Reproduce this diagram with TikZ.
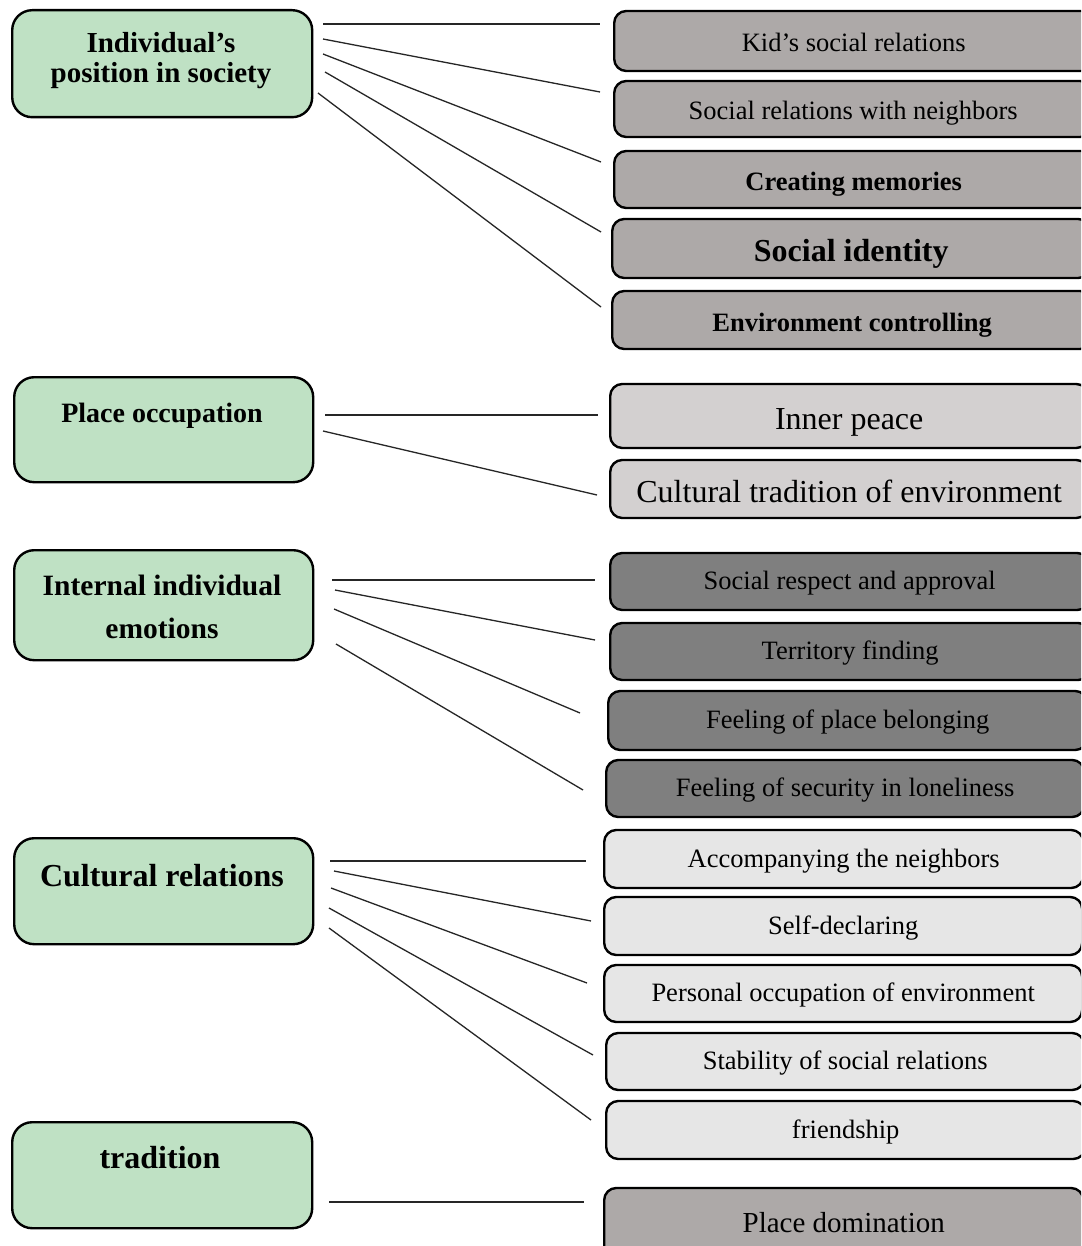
\documentclass[tikz,border=0pt]{standalone}
\usepackage{fontspec}
\setmainfont{Liberation Serif}
\definecolor{lgreen}{RGB}{191,225,196}
\definecolor{gA}{RGB}{173,169,168}
\definecolor{gB}{RGB}{211,208,208}
\definecolor{gC}{RGB}{127,127,127}
\definecolor{gD}{RGB}{230,230,230}
\begin{document}
\begin{tikzpicture}[x=1pt,y=-1pt,
  lbox/.style={draw=black, line width=2.4pt, fill=lgreen, rounded corners=20pt, inner sep=0pt, anchor=north west},
  rbox/.style={draw=black, line width=2.4pt, rounded corners=12pt, inner sep=0pt, anchor=west, text height=20pt, text depth=4pt, font=\fontsize{26.5}{30}\selectfont},
  rtop/.style={text height=24pt, text depth=2pt},
  rbold/.style={font=\bfseries\fontsize{26.5}{30}\selectfont},
  rbig/.style={font=\fontsize{32}{36}\selectfont, text height=30pt, text depth=3pt},
  ltxt/.style={anchor=base, inner sep=0pt, font=\bfseries\fontsize{29}{32}\selectfont},
  link/.style={line width=1.3pt, black!85}]
\useasboundingbox (0,0) rectangle (1081,1246);
\clip (0,0) rectangle (1081,1246);
\fill[white] (0,0) rectangle (1081,1246);

% left boxes
\node[lbox, minimum width=300pt, minimum height=107pt] (L1) at (11,9) {};
\node[lbox, minimum width=299pt, minimum height=105pt] (L2) at (13,376) {};
\node[lbox, minimum width=299pt, minimum height=110pt] (L3) at (13,549) {};
\node[lbox, minimum width=299pt, minimum height=106pt] (L4) at (13,837) {};
\node[lbox, minimum width=300pt, minimum height=106pt] (L5) at (11,1121) {};

\node[ltxt] (T1a) at (161,53) {Individual’s};
\node[ltxt] (T1b) at (161,83) {position in society};
\node[ltxt, font=\bfseries\fontsize{28}{32}\selectfont] (T2) at (162,422) {Place occupation};
\node[ltxt, font=\bfseries\fontsize{29.5}{32}\selectfont] (T3a) at (162,595) {Internal individual};
\node[ltxt, font=\bfseries\fontsize{29.5}{32}\selectfont] (T3b) at (162,638) {emotions};
\node[ltxt, font=\bfseries\fontsize{32}{36}\selectfont] (T4) at (162,886) {Cultural relations};
\node[ltxt, font=\bfseries\fontsize{32}{36}\selectfont] (T5) at (160,1168) {tradition};

% right boxes
\node[rbox, rtop, fill=gA, minimum width=479pt, minimum height=60pt] (R1) at (613,41) {Kid’s social relations};
\node[rbox, rtop, fill=gA, minimum width=478pt, minimum height=56pt] (R2) at (613,109) {Social relations with neighbors};
\node[rbox, rtop, rbold, fill=gA, minimum width=479pt, minimum height=57pt] (R3) at (613,179.5) {Creating memories};
\node[rbox, fill=gA, font=\bfseries\fontsize{32}{36}\selectfont, text height=28pt, text depth=2pt, minimum width=478pt, minimum height=59pt] (R4) at (611,248.5) {Social identity};
\node[rbox, rtop, rbold, fill=gA, minimum width=480pt, minimum height=58pt] (R5) at (611,320) {Environment controlling};
\node[rbox, rbig, fill=gB, minimum width=478pt, minimum height=64pt] (R6) at (609,416) {Inner peace};
\node[rbox, rbig, fill=gB, minimum width=478pt, minimum height=58pt] (R7) at (609,489) {Cultural tradition of environment};
\node[rbox, fill=gC, minimum width=479pt, minimum height=57pt] (R8) at (609,581.5) {Social respect and approval};
\node[rbox, fill=gC, minimum width=480pt, minimum height=57pt] (R9) at (609,651.5) {Territory finding};
\node[rbox, fill=gC, minimum width=479pt, minimum height=59pt] (R10) at (607,720.5) {Feeling of place belonging};
\node[rbox, fill=gC, minimum width=478pt, minimum height=57pt] (R11) at (605,788.5) {Feeling of security in loneliness};
\node[rbox, fill=gD, minimum width=479pt, minimum height=58pt] (R12) at (603,859) {Accompanying the neighbors};
\node[rbox, fill=gD, minimum width=478pt, minimum height=58pt] (R13) at (603,926) {Self-declaring};
\node[rbox, fill=gD, minimum width=478pt, minimum height=57pt] (R14) at (603,993.5) {Personal occupation of environment};
\node[rbox, fill=gD, minimum width=478pt, minimum height=57pt] (R15) at (605,1061.5) {Stability of social relations};
\node[rbox, fill=gD, minimum width=479pt, minimum height=58pt] (R16) at (605,1130) {friendship};
\node[rbox, fill=gA, font=\fontsize{29}{33}\selectfont, text height=22pt, text depth=4pt, minimum width=479pt, minimum height=70pt] (R17) at (603,1223) {Place domination};

% connectors
\foreach \n/\xa/\ya/\xb/\yb in {
  1/323/24/600/24, 2/323/39/600/92, 3/323/54/601/162, 4/325/72/601/232, 5/318/93/601/307,
  6/325/415/598/415, 7/323/431/597/495,
  8/332/580/595/580, 9/335/590/595/640, 10/334/609/580/713, 11/336/644/583/790,
  12/330/861/586/861, 13/334/871/591/921, 14/331/888/587/983, 15/329/908/593/1055, 16/329/928/591/1120,
  17/329/1202/584/1202}{
  \coordinate (s\n) at (\xa,\ya);
  \coordinate (e\n) at (\xb,\yb);
  \draw[link] (s\n) -- (e\n);
}
\end{tikzpicture}
\end{document}
